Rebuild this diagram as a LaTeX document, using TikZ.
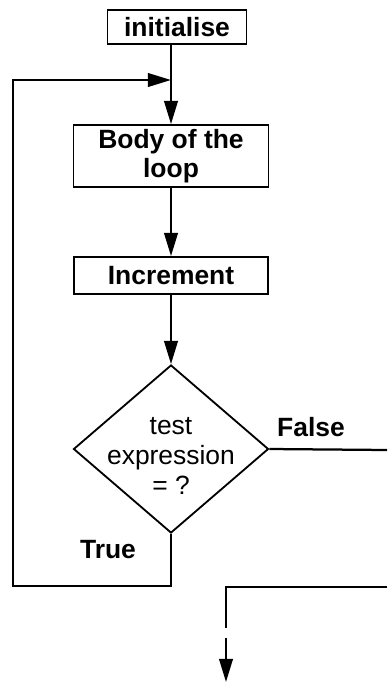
\documentclass[tikz,border=0pt]{standalone}
\usepackage{fontspec}
\setsansfont{Liberation Sans}
\usetikzlibrary{arrows.meta,shapes.geometric}

\begin{document}
\begin{tikzpicture}[x=0.25mm,y=-0.25mm]
\useasboundingbox (0,0) rectangle (387,682);
\begin{scope}[every node/.style={rectangle,draw,line width=1.3pt,inner sep=0pt,align=center,
              font=\sffamily\bfseries\fontsize{18.8}{20.6}\selectfont}]
	%the boxes down the middle, placed at pixel coordinates
    \node[minimum width=34.75mm,minimum height=8.5mm] (init) at (177,27) {initialise};
    \node[minimum width=48.75mm,minimum height=15.5mm] (body) at (171,156) {Body of the\\loop};
    \node[minimum width=48.5mm,minimum height=9.25mm] (inc) at (171,275.5) {Increment};
    %the test, its text is a node of its own
    \node[diamond,minimum width=48.75mm,minimum height=42mm] (test) at (171,449) {};
\end{scope}

\node[align=center,inner sep=0pt,font=\sffamily\fontsize{18.8}{21.3}\selectfont] (testtext) at (171,456) {test\\expression\\= ?};
\begin{scope}[every node/.style={font=\sffamily\bfseries\fontsize{18.8}{20.6}\selectfont}]
    \node (false) at (311,427) {False};
    \node (true) at (108,550) {True};
\end{scope}

%corners of the loop back and of the way out
\coordinate (join) at (171,80);
\coordinate (tb) at (171,586);
\coordinate (tl) at (13,586);
\coordinate (tt) at (13,80);
\coordinate (fe) at (387,450);
\coordinate (re) at (387,587);
\coordinate (rc) at (226,587);
\coordinate (gap1) at (226,628);
\coordinate (gap2) at (226,638);
\coordinate (exit) at (226,682);

\begin{scope}[>={Triangle[length=5.8mm,width=3.4mm]},
              every edge/.style={draw,line width=1.6pt}]
    %straight down through the boxes
    \path [->] (init.south -| body.north) edge (body.north);
    \path [->] (body) edge (inc);
    \path [->] (inc) edge (test);
    %back round on True, out to the right on False
    \draw [->,line width=1.6pt] (test.south) -- (tb) -- (tl) -- (tt) -- (join);
    \draw [line width=1.6pt] (test.east) -- (fe);
    \draw [line width=1.6pt] (re) -- (rc) -- (gap1);
    \path [->] (gap2) edge (exit);
\end{scope}
\end{tikzpicture}
\end{document}
